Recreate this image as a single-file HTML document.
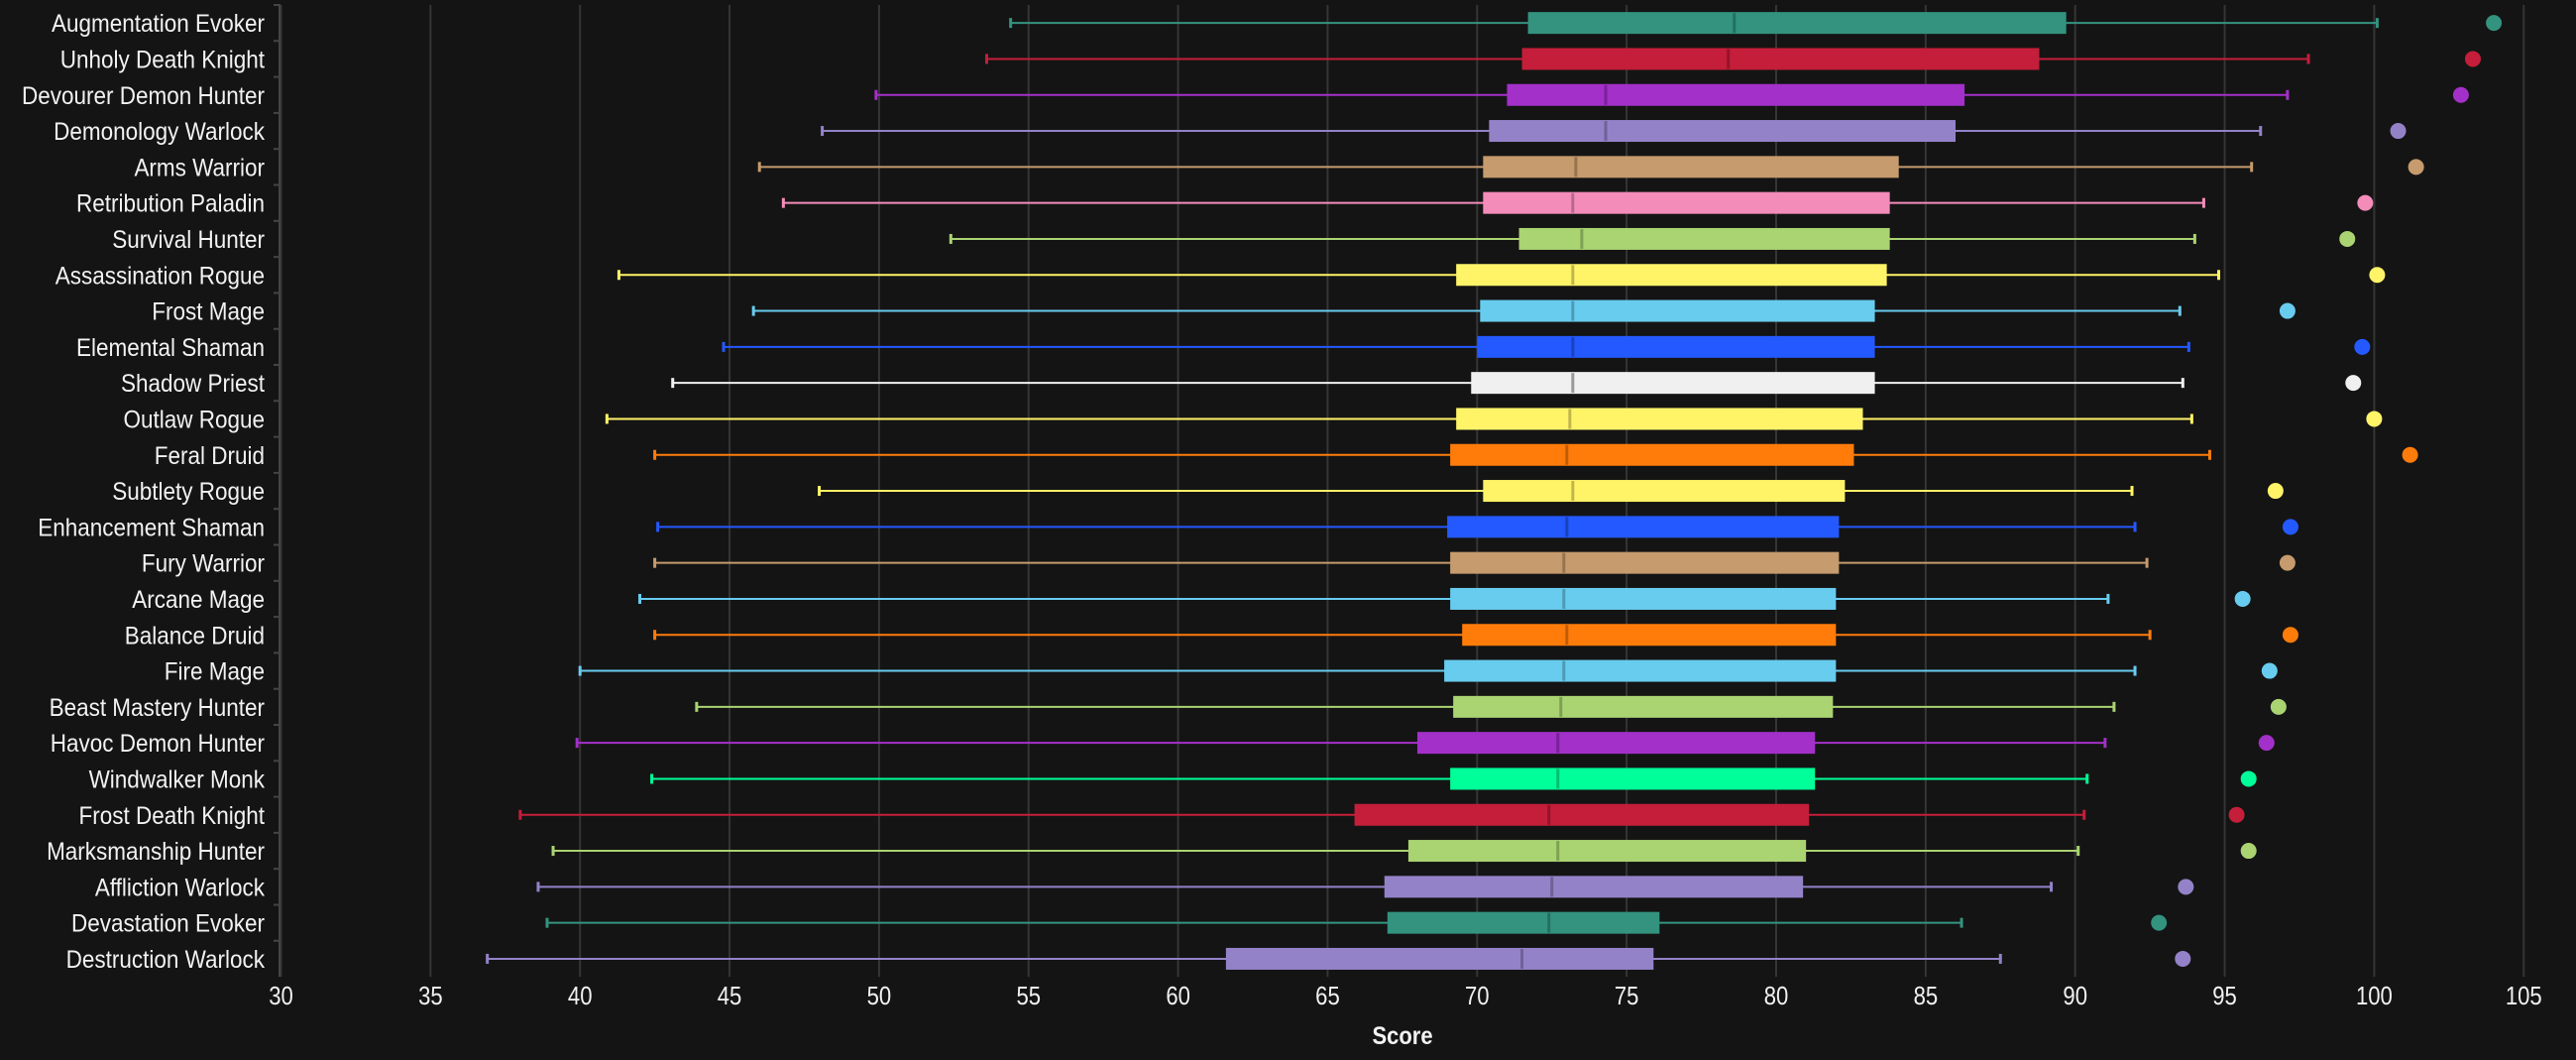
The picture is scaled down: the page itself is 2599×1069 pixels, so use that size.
<!DOCTYPE html>
<html><head><meta charset="utf-8"><style>
html,body{margin:0;padding:0;background:#141414;}
svg{display:block;}
text{font-family:"Liberation Sans Narrow","Liberation Sans",sans-serif;fill:#f2f2f2;}
</style></head><body>
<svg id="chart" width="2599" height="1069" viewBox="0 0 2599 1069" xmlns="http://www.w3.org/2000/svg">
<rect width="2599" height="1069" fill="#141414"/>
<g id="grid"></g>
<g id="yaxis"></g>
<g id="xaxis"></g>
<g id="marks"></g>
<text transform="translate(1415,1053) scale(0.88,1)" text-anchor="middle" font-size="25" font-weight="bold">Score</text>
</svg>
<script>
const categories = ["Augmentation Evoker","Unholy Death Knight","Devourer Demon Hunter","Demonology Warlock","Arms Warrior","Retribution Paladin","Survival Hunter","Assassination Rogue","Frost Mage","Elemental Shaman","Shadow Priest","Outlaw Rogue","Feral Druid","Subtlety Rogue","Enhancement Shaman","Fury Warrior","Arcane Mage","Balance Druid","Fire Mage","Beast Mastery Hunter","Havoc Demon Hunter","Windwalker Monk","Frost Death Knight","Marksmanship Hunter","Affliction Warlock","Devastation Evoker","Destruction Warlock"];
const lows = [54.4,53.6,49.9,48.1,46.0,46.8,52.4,41.3,45.8,44.8,43.1,40.9,42.5,48.0,42.6,42.5,42.0,42.5,40.0,43.9,39.9,42.4,38.0,39.1,38.6,38.9,36.9];
const q1s = [71.7,71.5,71.0,70.4,70.2,70.2,71.4,69.3,70.1,70.0,69.8,69.3,69.1,70.2,69.0,69.1,69.1,69.5,68.9,69.2,68.0,69.1,65.9,67.7,66.9,67.0,61.6];
const medians = [78.6,78.4,74.3,74.3,73.3,73.2,73.5,73.2,73.2,73.2,73.2,73.1,73.0,73.2,73.0,72.9,72.9,73.0,72.9,72.8,72.7,72.7,72.4,72.7,72.5,72.4,71.5];
const q3s = [89.7,88.8,86.3,86.0,84.1,83.8,83.8,83.7,83.3,83.3,83.3,82.9,82.6,82.3,82.1,82.1,82.0,82.0,82.0,81.9,81.3,81.3,81.1,81.0,80.9,76.1,75.9];
const highs = [100.1,97.8,97.1,96.2,95.9,94.3,94.0,94.8,93.5,93.8,93.6,93.9,94.5,91.9,92.0,92.4,91.1,92.5,92.0,91.3,91.0,90.4,90.3,90.1,89.2,86.2,87.5];
const dots = [104.0,103.3,102.9,100.8,101.4,99.7,99.1,100.1,97.1,99.6,99.3,100.0,101.2,96.7,97.2,97.1,95.6,97.2,96.5,96.8,96.4,95.8,95.4,95.8,93.7,92.8,93.6];
const colors = ["#33937f","#c41e3a","#a330c9","#9482c9","#c69b6d","#f48cba","#aad372","#fff468","#68ccef","#2459ff","#f0f0f0","#fff468","#ff7c0a","#fff468","#2459ff","#c69b6d","#68ccef","#ff7c0a","#68ccef","#aad372","#a330c9","#00ff98","#c41e3a","#aad372","#9482c9","#33937f","#9482c9"];
const medColors = ["#22705f","#961329","#7a2197","#6f6197","#977450","#b8688c","#7fa053","#bfb64c","#4e9ab4","#1a42bb","#999999","#bfb64c","#bf5c06","#bfb64c","#1a42bb","#977450","#4e9ab4","#bf5c06","#4e9ab4","#7fa053","#7a2197","#00bf72","#961329","#7fa053","#6f6197","#22705f","#6f6197"];
const ticks = [30,35,40,45,50,55,60,65,70,75,80,85,90,95,100,105];

const NS="http://www.w3.org/2000/svg";
const X0=283.5, XPU=30.17, TOP=5, ROWH=36.3;
function x(v){return X0+(v-30)*XPU;}
function y(i){return TOP+ROWH*(i+0.5);}
function mk(tag,attrs,parent){const e=document.createElementNS(NS,tag);for(const k in attrs)e.setAttribute(k,attrs[k]);parent.appendChild(e);return e;}
const grid=document.getElementById('grid'),xa=document.getElementById('xaxis'),ya=document.getElementById('yaxis'),marks=document.getElementById('marks');
const bottom=TOP+ROWH*categories.length;
ticks.forEach(t=>{
  const l=mk('line',{x1:x(t),x2:x(t),y1:TOP,y2:bottom,stroke:'#353535','stroke-width':2},grid);
  
  
  const tx=mk('text',{transform:'translate('+x(t)+',1013) scale(0.85,1)','text-anchor':'middle','font-size':26},xa);
  tx.textContent=t;
  
  
});
const axl=mk('line',{x1:282,x2:282,y1:TOP,y2:bottom,stroke:'#444','stroke-width':2},ya);


categories.forEach((c,i)=>{
  const cy=y(i);
  const tk=mk('line',{x1:276,x2:283,y1:TOP+ROWH*i,y2:TOP+ROWH*i,stroke:'#444','stroke-width':2},ya);
  
  
  const t=mk('text',{transform:'translate(267,'+(cy+9)+') scale(0.9,1)','text-anchor':'end','font-size':25},ya);
  t.textContent=c;
  
  
  const g=mk('g',{},marks);
  
  
  const col=colors[i];
  mk('line',{x1:x(lows[i]),x2:x(highs[i]),y1:cy,y2:cy,stroke:col,'stroke-width':2},g);
  mk('line',{x1:x(lows[i]),x2:x(lows[i]),y1:cy-5,y2:cy+5,stroke:col,'stroke-width':3},g);
  mk('line',{x1:x(highs[i]),x2:x(highs[i]),y1:cy-5,y2:cy+5,stroke:col,'stroke-width':3},g);
  mk('rect',{x:x(q1s[i]),y:cy-11,width:x(q3s[i])-x(q1s[i]),height:22,fill:col},g);
  mk('line',{x1:x(medians[i]),x2:x(medians[i]),y1:cy-10,y2:cy+10,stroke:medColors[i],'stroke-width':3},g);
  const d=mk('circle',{cx:x(dots[i]),cy:cy,r:8,fill:col},marks);
  
  
});
</script>
</body></html>
